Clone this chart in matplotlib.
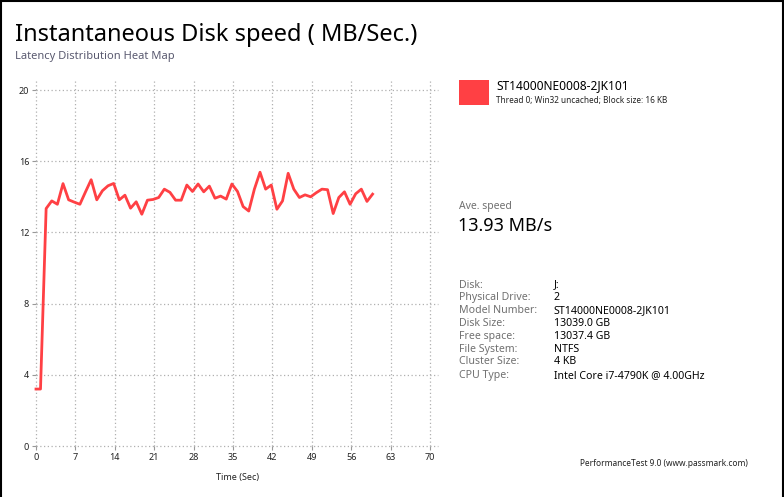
import matplotlib
matplotlib.use("Agg")
import matplotlib.pyplot as plt
from matplotlib.lines import Line2D
from matplotlib.patches import Rectangle

plt.rcParams['font.family'] = ['Noto Sans', 'DejaVu Sans']

# ---- data ----
time_sec = [0, 0.8, 1.8, 2.8, 3.8, 4.8, 5.8, 6.8, 7.8, 8.8, 9.8, 10.8, 11.8, 12.8, 13.8,
            14.8, 15.8, 16.8, 17.8, 18.8, 19.8, 20.8, 21.8, 22.8, 23.8, 24.8, 25.8, 26.8,
            27.8, 28.8, 29.8, 30.8, 31.8, 32.8, 33.8, 34.8, 35.8, 36.8, 37.8, 38.8, 39.8,
            40.8, 41.8, 42.8, 43.8, 44.8, 45.8, 46.8, 47.8, 48.8, 49.8, 50.8, 51.8, 52.8,
            53.8, 54.8, 55.8, 56.8, 57.8, 58.8, 59.8]
speed_mbs = [3.2, 3.2, 13.34, 13.77, 13.58, 14.74, 13.83, 13.70, 13.58, 14.28, 14.96, 13.83,
             14.34, 14.62, 14.75, 13.83, 14.09, 13.36, 13.72, 13.02, 13.81, 13.85, 13.96, 14.43,
             14.25, 13.81, 13.81, 14.66, 14.30, 14.72, 14.28, 14.60, 13.92, 14.04, 13.87, 14.72,
             14.30, 13.45, 13.20, 14.43, 15.38, 14.43, 14.66, 13.30, 13.77, 15.32, 14.43, 13.96,
             14.11, 14.00, 14.23, 14.43, 14.40, 13.06, 13.96, 14.28, 13.58, 14.17, 14.43, 13.74,
             14.15]
x_ticks = [0, 7, 14, 21, 28, 35, 42, 49, 56, 63, 70]
y_ticks = [0, 4, 8, 12, 16, 20]

title = "Instantaneous Disk speed ( MB/Sec.)"
subtitle = "Latency Distribution Heat Map"
series_name = "ST14000NE0008-2JK101"
series_desc = "Thread 0; Win32 uncached; Block size: 16 KB"
avg_label = "Ave. speed"
avg_value = "13.93 MB/s"
info_labels = ["Disk:", "Physical Drive:", "Model Number:", "Disk Size:", "Free space:",
               "File System:", "Cluster Size:", "CPU Type:"]
info_values = ["J:", "2", "ST14000NE0008-2JK101", "13039.0 GB", "13037.4 GB", "NTFS",
               "4 KB", "Intel Core i7-4790K @ 4.00GHz"]
footer = "PerformanceTest 9.0 (www.passmark.com)"

LINE_COLOR = "#ff4044"
W, H = 784, 497

fig = plt.figure(figsize=(W / 100, H / 100), dpi=100)
fig.patch.set_facecolor("white")

def fx(px):
    return px / W

def fy(py):
    return 1 - py / H

# axes: x 0 at px 36, 70 at px 430 ; y 0 at px 446, 20 at px 90
x_scale = (430 - 36) / 70
y_scale = (446 - 90) / 20
ax_left, ax_right, ax_top, ax_bottom = 36, 438, 80, 446
ax = fig.add_axes([fx(ax_left), fy(ax_bottom), (ax_right - ax_left) / W, (ax_bottom - ax_top) / H])
ax.set_xlim(0, (ax_right - ax_left) / x_scale)
ax.set_ylim(0, (ax_bottom - ax_top) / y_scale)
for s in ax.spines.values():
    s.set_visible(False)
ax.set_xticks(x_ticks)
ax.set_yticks(y_ticks)
ax.tick_params(axis='both', length=3, width=0.8, color='#999999', labelsize=6.5,
               labelcolor='#222222', pad=2)
ax.grid(True, color='#b0b0b0', linestyle=(0, (1, 2)), linewidth=0.9)
for gl in ax.get_xgridlines() + ax.get_ygridlines():
    gl.set_clip_on(False)
ax.set_axisbelow(True)

ax.plot(time_sec, speed_mbs, color=LINE_COLOR, linewidth=2.0, solid_joinstyle='round',
        clip_on=False, zorder=3)
ax.set_xlabel("Time (Sec)", fontsize=6.5, color='#222222', labelpad=8)

# titles
fig.text(fx(15), fy(35), title, fontsize=17, color='black', va='center', ha='left')
fig.text(fx(15), fy(57), subtitle, fontsize=8, color='#5a5a70', va='center', ha='left')

# legend
fig.patches.append(Rectangle((fx(459), fy(105)), 30 / W, 25 / H, transform=fig.transFigure,
                             facecolor=LINE_COLOR, edgecolor='none'))
fig.text(fx(496), fy(86), series_name, fontsize=8.6, color='black', va='center', ha='left')
fig.text(fx(496), fy(100), series_desc, fontsize=5.9, color='#222222', va='center', ha='left')

fig.text(fx(459), fy(207), avg_label, fontsize=7.5, color='#707070', va='center', ha='left')
fig.text(fx(458), fy(226), avg_value, fontsize=13, color='black', va='center', ha='left')

row_y = [285, 297.5, 310.5, 323.3, 336.2, 349.5, 362, 375.5]
for yy, lab, val in zip(row_y, info_labels, info_values):
    fig.text(fx(459), fy(yy), lab, fontsize=7.6, color='#707070', va='center', ha='left')
    fig.text(fx(554), fy(yy), val, fontsize=7.6, color='black', va='center', ha='left')

fig.text(fx(664), fy(463), footer, fontsize=6.0, color='#222222', va='center', ha='center')

# window border
for xs, ys in [([0.5, 0.5], [0, H]), ([0, W], [0.5, 0.5]), ([W - 1.5, W - 1.5], [0, H])]:
    fig.lines.append(Line2D([fx(v) for v in xs], [fy(v) for v in ys], transform=fig.transFigure,
                            color='black', linewidth=1.5))

fig.savefig("out.png", dpi=100, facecolor='white')
